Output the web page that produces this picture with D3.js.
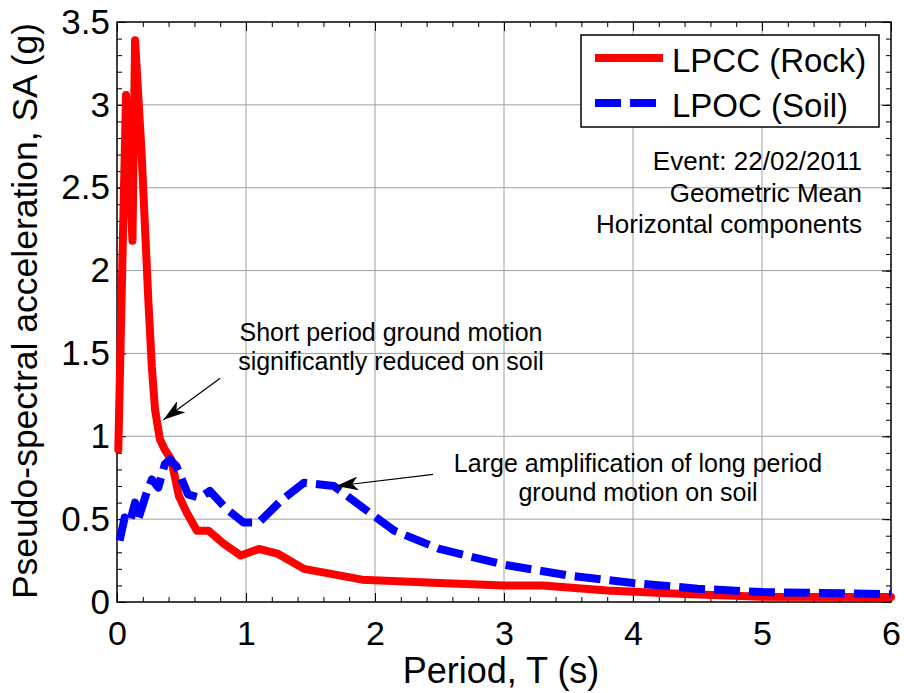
<!DOCTYPE html>
<html><head><meta charset="utf-8">
<script src="https://cdn.jsdelivr.net/npm/d3@7/dist/d3.min.js"></script>
<style>body{margin:0;background:#fff}svg{display:block;font-family:"Liberation Sans",Arial,sans-serif}</style>
</head><body><svg id="c" width="904" height="693"></svg>
<script>
// Data (period T in s, SA in g)
const rockT  = [0.01,0.07,0.12,0.14,0.19,0.243,0.27,0.295,0.333,0.37,0.42,0.48,0.54,0.62,0.71,0.83,0.96,1.1,1.25,1.45,1.9,2.5,3.0,3.3,3.8,4.4,5.0,6.0];
const rockSA = [0.92,3.06,2.18,3.39,2.72,1.82,1.42,1.16,0.98,0.92,0.86,0.64,0.54,0.43,0.43,0.35,0.28,0.32,0.29,0.20,0.135,0.115,0.10,0.10,0.07,0.048,0.032,0.03];
const soilT  = [0.02,0.06,0.10,0.14,0.165,0.23,0.27,0.32,0.37,0.41,0.46,0.55,0.64,0.72,0.85,0.98,1.1,1.27,1.45,1.68,1.94,2.15,2.5,3.0,3.5,4.0,4.5,5.0,6.0];
const soilSA = [0.37,0.51,0.48,0.60,0.50,0.66,0.74,0.69,0.83,0.86,0.82,0.65,0.63,0.67,0.56,0.48,0.48,0.61,0.72,0.70,0.55,0.43,0.32,0.225,0.16,0.115,0.08,0.06,0.048];
const xTicks = [0,1,2,3,4,5,6];
const yTicks = [0,0.5,1,1.5,2,2.5,3,3.5];
const yTickLabels = ["0","0.5","1","1.5","2","2.5","3","3.5"];
const seriesNames = ["LPCC (Rock)","LPOC (Soil)"];
const infoLines = ["Event: 22/02/2011","Geometric Mean","Horizontal components"];
const note1 = ["Short period ground motion","significantly reduced on soil"];
const note2 = ["Large amplification of long period","ground motion on soil"];

const svg = d3.select("#c");
const L=117,R=891,T=22,B=602;
const x = d3.scaleLinear().domain([0,6]).range([L,R]);
const y = d3.scaleLinear().domain([0,3.5]).range([B,T]);

// grid
const g = svg.append("g");
g.selectAll(".gx").data(xTicks.slice(1,-1)).enter().append("line")
  .attr("x1",d=>x(d)).attr("x2",d=>x(d)).attr("y1",T).attr("y2",B)
  .attr("stroke","#a0a0a0").attr("stroke-width",1);
g.selectAll(".gy").data(yTicks.slice(1,-1)).enter().append("line")
  .attr("y1",d=>y(d)).attr("y2",d=>y(d)).attr("x1",L).attr("x2",R)
  .attr("stroke","#a0a0a0").attr("stroke-width",1);

// axes with inward ticks on all sides
const xMinor = d3.range(0,6.001,0.2);
const yMinor = d3.range(0,3.501,0.1);
function axis(gen, tr){ const a=svg.append("g").attr("transform",tr).call(gen);
  a.select(".domain").remove(); a.selectAll("line").attr("stroke","#000"); return a;}
axis(d3.axisBottom(x).tickValues(xMinor).tickSize(-5).tickFormat(""),`translate(0,${B})`);
axis(d3.axisTop(x).tickValues(xMinor).tickSize(-5).tickFormat(""),`translate(0,${T})`);
axis(d3.axisLeft(y).tickValues(yMinor).tickSize(-5).tickFormat(""),`translate(${L},0)`);
axis(d3.axisRight(y).tickValues(yMinor).tickSize(-5).tickFormat(""),`translate(${R},0)`);
const xb = axis(d3.axisBottom(x).tickValues(xTicks).tickSize(-9).tickPadding(19).tickFormat(d3.format("d")),`translate(0,${B})`);
xb.selectAll("text").attr("font-size",34).attr("fill","#000").attr("font-family","Liberation Sans, Arial");
axis(d3.axisTop(x).tickValues(xTicks).tickSize(-9).tickFormat(""),`translate(0,${T})`);
const yl = axis(d3.axisLeft(y).tickValues(yTicks).tickSize(-9).tickPadding(7).tickFormat((d,i)=>yTickLabels[i]),`translate(${L},0)`);
yl.selectAll("text").attr("font-size",35).attr("fill","#000").attr("font-family","Liberation Sans, Arial");
axis(d3.axisRight(y).tickValues(yTicks).tickSize(-9).tickFormat(""),`translate(${R},0)`);
svg.append("rect").attr("x",L).attr("y",T).attr("width",R-L).attr("height",B-T)
  .attr("fill","none").attr("stroke","#000").attr("stroke-width",1.5);

// lines
const line = d3.line().x(d=>x(d[0])).y(d=>y(d[1]));
const rock = rockT.map((t,i)=>[t,rockSA[i]]);
const soil = soilT.map((t,i)=>[t,soilSA[i]]);
svg.append("path").attr("d",line(rock)).attr("fill","none").attr("stroke","#ff0000")
  .attr("stroke-width",8).attr("stroke-linejoin","round").attr("stroke-linecap","round");
svg.append("path").attr("d",line(soil)).attr("fill","none").attr("stroke","#0000ff")
  .attr("stroke-width",8).attr("stroke-linejoin","round").attr("stroke-dasharray","26,9");

// legend
const lg = svg.append("g");
lg.append("rect").attr("x",581).attr("y",35).attr("width",298).attr("height",92)
  .attr("fill","#fff").attr("stroke","#000").attr("stroke-width",1.5);
const cols=["#ff0000","#0000ff"], dashes=[null,"26,9"];
seriesNames.forEach((n,i)=>{
  const yy = 58 + i*45;
  lg.append("line").attr("x1",595).attr("x2",663).attr("y1",yy).attr("y2",yy)
    .attr("stroke",cols[i]).attr("stroke-width",8).attr("stroke-dasharray",dashes[i]);
  lg.append("text").attr("x",672).attr("y",yy+14).attr("font-size",33).text(n);
});

// multi-line texts
function multi(lines, xx, yy, dy, anchor, fs){
  const t = svg.append("text").attr("x",xx).attr("y",yy).attr("text-anchor",anchor).attr("font-size",fs);
  lines.forEach((s,i)=>t.append("tspan").attr("x",xx).attr("dy",i?dy:0).text(s));
}
multi(infoLines, 862, 170, 31.5, "end", 26);
multi(note1, 391, 341, 28.5, "middle", 25);
multi(note2, 638, 472, 28.5, "middle", 25);

// arrows
svg.append("defs").append("marker").attr("id","ah").attr("viewBox","0 0 22 14")
  .attr("refX",22).attr("refY",7).attr("markerWidth",22).attr("markerHeight",14)
  .attr("markerUnits","userSpaceOnUse").attr("orient","auto")
  .append("path").attr("d","M0,0 L22,7 L0,14 L6,7 Z").attr("fill","#000");
const arrows = [[[0.80,1.35],[0.36,1.10]],[[2.45,0.77],[1.70,0.70]]];
arrows.forEach(a=>svg.append("line").attr("x1",x(a[0][0])).attr("y1",y(a[0][1]))
  .attr("x2",x(a[1][0])).attr("y2",y(a[1][1])).attr("stroke","#000").attr("stroke-width",1.2)
  .attr("marker-end","url(#ah)"));

// axis labels
svg.append("text").attr("x",(L+R)/2-3).attr("y",683).attr("text-anchor","middle").attr("font-size",36).text("Period, T (s)");
svg.append("text").attr("transform",`translate(37,${(T+B)/2-1}) rotate(-90)`).attr("text-anchor","middle").attr("font-size",35.5).text("Pseudo-spectral acceleration, SA (g)");
</script></body></html>
